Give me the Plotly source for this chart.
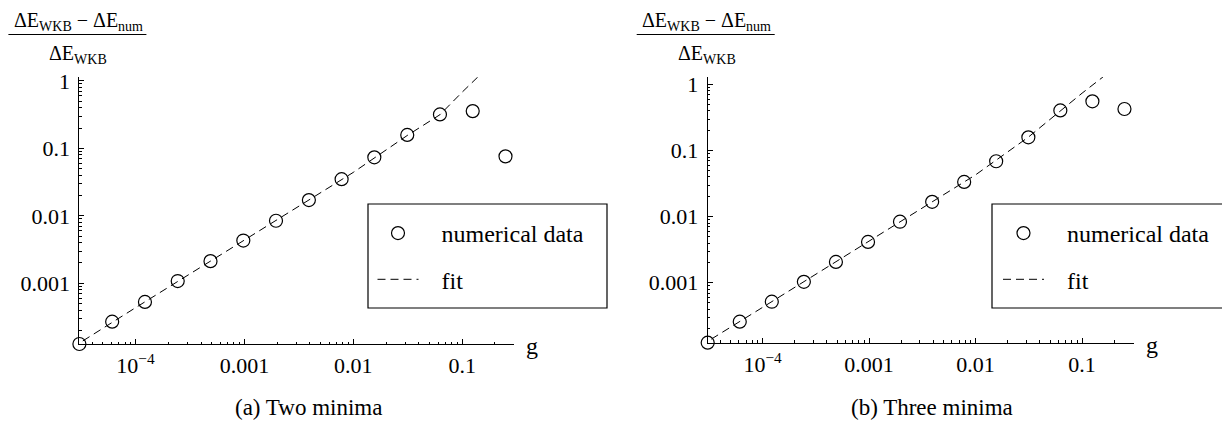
import math
import plotly.graph_objects as go

# coupling g (same grid in both panels)
g = [3.05e-5, 6.10e-5, 1.22e-4, 2.44e-4, 4.88e-4, 9.77e-4, 0.00195,
     0.00391, 0.00781, 0.0156, 0.0313, 0.0625, 0.125, 0.25]

# relative deviation (dE_WKB - dE_num) / dE_WKB
two_min = [1.26e-4, 2.7e-4, 5.3e-4, 1.08e-3, 2.13e-3, 4.3e-3, 8.45e-3,
           0.0171, 0.0349, 0.0735, 0.158, 0.318, 0.356, 0.076]
three_min = [1.24e-4, 2.58e-4, 5.17e-4, 1.035e-3, 2.07e-3, 4.15e-3, 8.4e-3,
             0.0168, 0.0336, 0.069, 0.159, 0.406, 0.557, 0.426]

# fit curves
fit_g_a = [2.6e-5, 3.05e-5, 1e-4, 1e-3, 0.01, 0.0313, 0.0625, 0.1, 0.14]
fit_y_a = [1.1e-4, 1.3e-4, 4.35e-4, 4.35e-3, 0.044, 0.155, 0.315, 0.68, 1.15]
fit_g_b = [2.6e-5, 3.05e-5, 1e-4, 1e-3, 0.01, 0.0313, 0.0625, 0.1, 0.157]
fit_y_b = [1.1e-4, 1.3e-4, 4.25e-4, 4.25e-3, 0.043, 0.16, 0.405, 0.74, 1.3]

x_ticks = [1e-4, 1e-3, 1e-2, 1e-1]
x_ticktext = ["10<sup>\u22124</sup>", "0.001", "0.01", "0.1"]
y_ticks = [1e-3, 1e-2, 1e-1, 1]
y_ticktext = ["0.001", "0.01", "0.1", "1"]

captions = ["(a) Two minima", "(b) Three minima"]

FONT = "Liberation Serif, Times New Roman, Times, serif"
W, H = 1230, 423
OFF = 8  # page body margin


def px(x):
    return (x - OFF) / W


def py(y):
    return 1 - (y - OFF) / H


minor_vals = [m * 10**e for e in range(-6, 1) for m in range(2, 10)]

fig = go.Figure()

panels = [
    dict(y=two_min, fg=fit_g_a, fy=fit_y_a, xa="x", ya="y", leg="legend",
         xdom=[px(79.4), px(513.8)], ydom=[py(344), py(77)], ytop=1.14, xr=0.298,
         box=(368, 607), ax=79.4, cap=308),
    dict(y=three_min, fg=fit_g_b, fy=fit_y_b, xa="x2", ya="y2", leg="legend2",
         xdom=[px(707.7), px(1133.5)], ydom=[py(342.7), py(77)], ytop=1.30, xr=0.304,
         box=(992, 1236), ax=707.7, cap=932),
]

for i, p in enumerate(panels):
    fig.add_trace(go.Scatter(
        x=g, y=p["y"], mode="markers", name="\u00a0\u00a0\u00a0numerical data",
        xaxis=p["xa"], yaxis=p["ya"], legend=p["leg"], legendgroup="a",
        marker=dict(symbol="circle-open", size=13, color="black",
                    line=dict(width=1.2, color="black")),
        cliponaxis=False,
    ))
    fig.add_trace(go.Scatter(
        x=p["fg"], y=p["fy"], mode="lines", name="\u00a0\u00a0\u00a0fit",
        xaxis=p["xa"], yaxis=p["ya"], legend=p["leg"], legendgroup="b",
        line=dict(color="black", width=1, dash="8px,5px"),
    ))

    sfx = "" if i == 0 else str(i + 1)
    common = dict(type="log", showline=True, linecolor="black", linewidth=1,
                  showgrid=False, zeroline=False, ticks="inside", ticklen=5,
                  automargin=False,
                  tickcolor="black", tickfont=dict(family=FONT, size=22, color="black"),
                  minor=dict(tickmode="array", tickvals=minor_vals, ticks="inside",
                             ticklen=2.5, tickcolor="black", showgrid=False))
    fig.layout["xaxis" + sfx] = dict(
        common, domain=p["xdom"], anchor="y" + sfx,
        range=[math.log10(g[0]), math.log10(p["xr"])],
        tickmode="array", tickvals=x_ticks, ticktext=x_ticktext,
        ticklabelstandoff=2,
    )
    fig.layout["yaxis" + sfx] = dict(
        common, domain=p["ydom"], anchor="x" + sfx,
        range=[math.log10(p["y"][0]), math.log10(p["ytop"])],
        tickmode="array", tickvals=y_ticks, ticktext=y_ticktext,
        ticklabelstandoff=4,
    )

    x0 = p["ax"]
    txt = dict(xref="paper", yref="paper", showarrow=False,
               xanchor="center", yanchor="middle")
    # y label as a fraction above the axis
    fig.add_annotation(txt, x=px(x0 - 1), y=py(21.5),
                       text="\u0394E<sub>WKB</sub> \u2212 \u0394E<sub>num</sub>",
                       font=dict(family=FONT, size=20, color="black"))
    fig.add_annotation(txt, x=px(x0 - 1), y=py(54),
                       text="\u0394E<sub>WKB</sub>",
                       font=dict(family=FONT, size=20, color="black"))
    fig.add_shape(type="line", xref="paper", yref="paper",
                  x0=px(x0 - 71), x1=px(x0 + 67), y0=py(34.5), y1=py(34.5),
                  line=dict(color="black", width=1.2))
    # axis label g
    fig.add_annotation(txt, x=px(x0) + (p["xdom"][1] - p["xdom"][0]) + 18 / W,
                       y=p["ydom"][0] - 2 / H, text="g",
                       font=dict(family=FONT, size=24, color="black"))
    # caption
    fig.add_annotation(txt, x=px(p["cap"]), y=py(407), text=captions[i],
                       font=dict(family=FONT, size=23, color="black"))

    # legend frame
    bx0, bx1 = p["box"]
    fig.add_shape(type="rect", xref="paper", yref="paper", layer="below",
                  x0=px(bx0), x1=px(bx1), y0=py(308), y1=py(204),
                  line=dict(color="black", width=1.2), fillcolor="white")

leg_style = dict(xanchor="left", yanchor="top", bgcolor="rgba(0,0,0,0)",
                 borderwidth=0, tracegroupgap=12, itemwidth=41,
                 font=dict(family=FONT, size=24, color="black"))
fig.update_layout(
    width=W, height=H, margin=dict(l=0, r=0, t=0, b=0),
    paper_bgcolor="white", plot_bgcolor="white",
    showlegend=True,
    legend=dict(leg_style, x=px(372.5), y=py(211)),
    legend2=dict(leg_style, x=px(998), y=py(211)),
)

fig.write_html("out.html")
